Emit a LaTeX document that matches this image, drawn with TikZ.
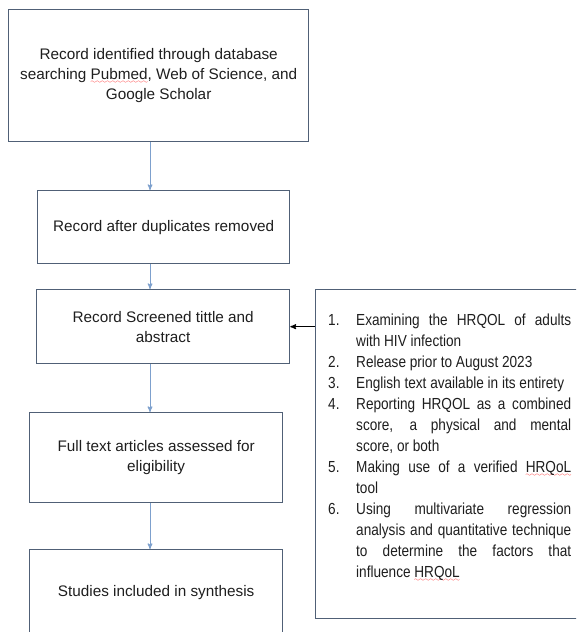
\documentclass[tikz,border=0pt]{standalone}
\usepackage{fontspec}
\setmainfont{Liberation Sans}
\newfontfamily\narrowfont[FakeStretch=0.85]{Liberation Sans}
\usepackage{enumitem}
\usetikzlibrary{arrows}
\definecolor{boxline}{RGB}{80,96,118}
\definecolor{flowblue}{RGB}{125,160,205}
\definecolor{inktext}{RGB}{30,30,30}
\font\wavyfont=lasy6
\newcommand\spellmark[1]{\setbox0\hbox{#1}%
  \rlap{\textcolor{red}{\lower4pt\hbox to\wd0{\xleaders\hbox{\wavyfont\char58}\hfil}}}#1}

\begin{document}
\begin{tikzpicture}[x=1pt,y=-1pt,>=stealth',
    every node/.style={inner sep=0pt,text=inktext},
    flow box/.style={draw=boxline,line width=1.3pt,anchor=north west,align=center,font=\fontsize{15.3}{20}\selectfont},
    crit box/.style={draw=boxline,line width=1.3pt,anchor=north west},
    flow/.style={->,draw=flowblue,line width=1pt},
    feed/.style={->,draw=black,line width=1.1pt}]

  \useasboundingbox (0,0) rectangle (576,632);
  \clip (0,0) rectangle (576,632);
  \coordinate (spine) at (150,0);

  \node[flow box,minimum width=300pt,minimum height=132pt] (ident) at (8,9)
    {Record identified through database\\searching \spellmark{Pubmed}, Web of Science, and\\Google Scholar};
  \node[flow box,minimum width=252pt,minimum height=73pt] (dedup) at (37,190)
    {Record after duplicates removed};
  \node[flow box,minimum width=253pt,minimum height=74pt] (screen) at (36,289)
    {Record Screened tittle and\\abstract};
  \node[flow box,minimum width=253pt,minimum height=90pt] (fulltext) at (29,412)
    {Full text articles assessed for\\eligibility};
  \node[flow box,minimum width=253pt,minimum height=86pt] (synth) at (29,549)
    {Studies included in synthesis};

  \node[crit box,minimum width=280pt,minimum height=329pt] (crit) at (315,289) {};
  \node[anchor=north west,text width=243pt,align=justify,
        font=\narrowfont\fontsize{16}{21}\selectfont] (critlist) at (328,304)
    {\hyphenpenalty=10000\emergencystretch=20pt
     \begin{enumerate}[label=\arabic*.,leftmargin=28pt,labelwidth=20pt,labelsep=8pt,
                       align=left,itemsep=0pt,topsep=0pt,parsep=0pt,partopsep=0pt]
       \item Examining the HRQOL of adults\linebreak with HIV infection
       \item Release prior to August 2023
       \item English text available in its entirety
       \item Reporting HRQOL as a combined\linebreak score, a physical and mental\linebreak score, or both
       \item Making use of a verified \spellmark{HRQoL}\linebreak tool
       \item Using multivariate regression\linebreak analysis and quantitative technique\linebreak
             to determine the factors that\linebreak influence \spellmark{HRQoL}
     \end{enumerate}};

  \draw[flow] (ident.south -| spine) -- (dedup.north -| spine);
  \draw[flow] (dedup.south -| spine) -- (screen.north -| spine);
  \draw[flow] (screen.south -| spine) -- (fulltext.north -| spine);
  \draw[flow] (fulltext.south -| spine) -- (synth.north -| spine);
  \draw[feed] (crit.west |- screen.east) -- (screen.east);
\end{tikzpicture}
\end{document}
